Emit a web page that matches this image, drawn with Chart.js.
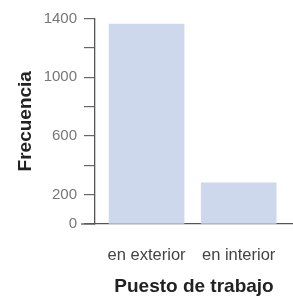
<!DOCTYPE html>
<html>
<head>
<meta charset="utf-8">
<script src="https://cdn.jsdelivr.net/npm/chart.js@4"></script>
<style>
  html, body { margin: 0; padding: 0; background: #fff; }
  #wrap { width: 293px; height: 299px; }
</style>
</head>
<body>
<div id="wrap"><canvas id="chart" width="293" height="299"></canvas></div>
<script>
const categories = ['en exterior', 'en interior'];
const frecuencia = [1362, 280];
const yTicks = [0, 200, 400, 600, 800, 1000, 1200, 1400];
const yTickLabels = ['0', '200', '', '600', '', '1000', '', '1400'];

const fontFamily = "'Liberation Sans', Arial, sans-serif";

// x axis line runs a bit past the y axis on the left
const axisStub = {
  id: 'axisStub',
  afterDraw(chart) {
    const { ctx, chartArea, scales } = chart;
    const y0 = scales.y.getPixelForValue(0);
    ctx.save();
    ctx.strokeStyle = '#555';
    ctx.lineWidth = 1.3;
    ctx.beginPath();
    ctx.moveTo(chartArea.left - 14, y0);
    ctx.lineTo(chartArea.left, y0);
    ctx.stroke();
    ctx.restore();
  }
};

new Chart(document.getElementById('chart').getContext('2d'), {
  type: 'bar',
  data: {
    datasets: [{
      data: categories.map((c, i) => ({ x: i, y: frecuencia[i] })),
      backgroundColor: '#cdd8ec',
      barThickness: 75
    }]
  },
  options: {
    responsive: false,
    animation: false,
    devicePixelRatio: 1,
    layout: { padding: { top: 18.5, right: 0, bottom: 0, left: 0 } },
    plugins: { legend: { display: false }, tooltip: { enabled: false } },
    scales: {
      x: {
        type: 'linear',
        offset: false,
        bounds: 'data',
        min: -0.56,
        max: 1.59,
        afterBuildTicks: axis => { axis.ticks = categories.map((c, i) => ({ value: i })); },
        afterFit: scale => {
          scale.height = 75;
          scale.paddingLeft = 0;
          scale.paddingRight = 0;
        },
        grid: { display: false, drawTicks: false, offset: false },
        border: { display: true, color: '#555', width: 1.3 },
        ticks: {
          callback: v => categories[v],
          color: '#444',
          font: { family: fontFamily, size: 16.5 },
          padding: 22,
          autoSkip: false,
          maxRotation: 0
        },
        title: {
          display: true,
          text: 'Puesto de trabajo',
          color: '#222',
          font: { family: fontFamily, size: 19, weight: 'bold' },
          padding: { top: 0, bottom: 0.5 }
        }
      },
      y: {
        min: 0,
        max: 1400,
        afterBuildTicks: axis => { axis.ticks = yTicks.map(v => ({ value: v })); },
        afterFit: scale => { scale.width = 95; },
        grid: { drawOnChartArea: false, tickLength: 11, color: '#666', lineWidth: 1.2 },
        border: { display: true, color: '#555', width: 1.3 },
        ticks: {
          callback: (v, i) => yTickLabels[i],
          color: '#777',
          font: { family: fontFamily, size: 15 },
          padding: 7
        },
        title: {
          display: true,
          text: 'Frecuencia',
          color: '#222',
          font: { family: fontFamily, size: 19, weight: 'bold' },
          padding: { top: 14, bottom: 0 }
        }
      }
    }
  },
  plugins: [axisStub]
});
</script>
</body>
</html>
